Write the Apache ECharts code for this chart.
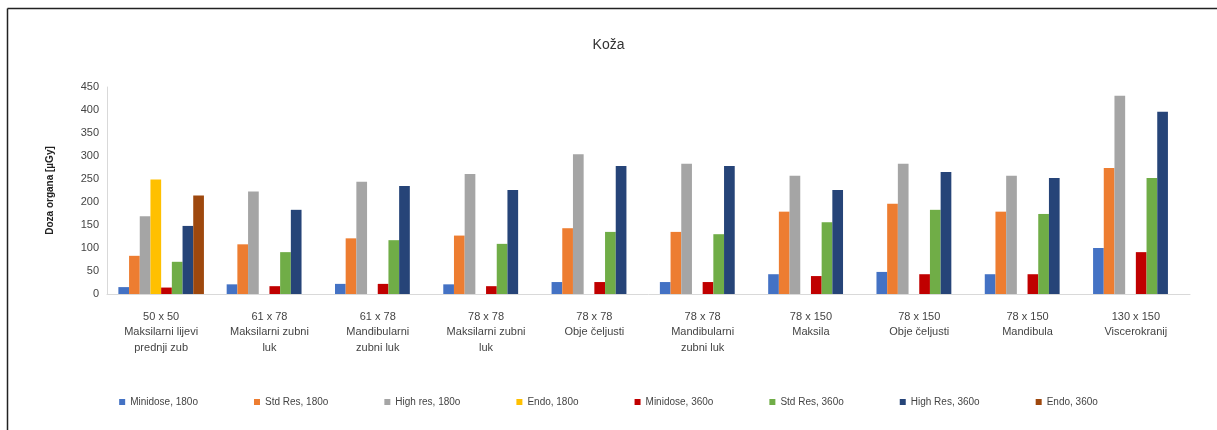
<!DOCTYPE html>
<html><head><meta charset="utf-8">
<script src="https://cdn.jsdelivr.net/npm/echarts@6/dist/echarts.min.js"></script>
<style>html,body{margin:0;padding:0;background:#fff}#c{width:1217px;height:430px}</style>
</head><body><div id="c"></div>
<script>
const categories = [
  "50 x 50\nMaksilarni lijevi\nprednji zub",
  "61 x 78\nMaksilarni zubni\nluk",
  "61 x 78\nMandibularni\nzubni luk",
  "78 x 78\nMaksilarni zubni\nluk",
  "78 x 78\nObje čeljusti",
  "78 x 78\nMandibularni\nzubni luk",
  "78 x 150\nMaksila",
  "78 x 150\nObje čeljusti",
  "78 x 150\nMandibula",
  "130 x 150\nViscerokranij"
];
const seriesNames = ["Minidose, 180o","Std Res, 180o","High res, 180o","Endo, 180o","Minidose, 360o","Std Res, 360o","High Res, 360o","Endo, 360o"];
const minidose180 = [15, 21, 22, 21, 26, 26, 43, 48, 43, 100];
const stdRes180   = [83, 108, 121, 127, 143, 135, 179, 196, 179, 274];
const highRes180  = [169, 223, 244, 261, 304, 283, 257, 283, 257, 431];
const endo180     = [249, null, null, null, null, null, null, null, null, null];
const minidose360 = [14, 17, 22, 17, 26, 26, 39, 43, 43, 91];
const stdRes360   = [70, 91, 117, 109, 135, 130, 156, 183, 174, 252];
const highRes360  = [148, 183, 235, 226, 278, 278, 226, 265, 252, 396];
const endo360     = [214, null, null, null, null, null, null, null, null, null];
const yTicks = [0, 50, 100, 150, 200, 250, 300, 350, 400, 450];

const allData = [minidose180, stdRes180, highRes180, endo180, minidose360, stdRes360, highRes360, endo360];
const colors = ["#4472C4","#ED7D31","#A5A5A5","#FFC000","#C00000","#70AD47","#264478","#9E480E"];
const font = "Liberation Sans";

const chart = echarts.init(document.getElementById('c'), null, {renderer:'canvas'});
chart.setOption({
  animation: false,
  color: colors,
  title: {text: "Koža", left: 'center', top: 33, textStyle: {fontFamily: font, fontSize: 14, fontWeight: 'normal', color: '#333'}},
  graphic: [
    {type:'line', shape:{x1:7.5,y1:8.5,x2:1217,y2:8.5}, style:{stroke:'#222', lineWidth:1.5}},
    {type:'line', shape:{x1:7.5,y1:8.5,x2:7.5,y2:430}, style:{stroke:'#222', lineWidth:1.5}}
  ],
  legend: {
    data: seriesNames, bottom: 18, left: 'center', itemWidth: 6, itemHeight: 6, itemGap: 56,
    icon: 'rect',
    textStyle: {fontFamily: font, fontSize: 10, color: '#444'}
  },
  grid: {left: 107, right: 27, top: 87, bottom: 136, containLabel: false},
  xAxis: {
    type: 'category', data: categories,
    axisLine: {lineStyle: {color: '#d9d9d9'}},
    axisTick: {show: false},
    axisLabel: {interval: 0, fontFamily: font, fontSize: 11, color: '#444', lineHeight: 15.5, margin: 15}
  },
  yAxis: {
    type: 'value', min: 0, max: 450, interval: 50,
    name: "Doza organa [µGy]", nameLocation: 'middle', nameGap: 52, nameRotate: 90,
    nameTextStyle: {fontFamily: font, fontSize: 10, color: '#222', fontWeight: 'bold'},
    axisLine: {show: true, lineStyle: {color: '#d9d9d9'}},
    axisTick: {show: false},
    splitLine: {show: false},
    axisLabel: {fontFamily: font, fontSize: 11, color: '#444', margin: 8,
      formatter: v => yTicks.includes(v) ? String(v) : ''}
  },
  series: seriesNames.map((n, i) => ({
    name: n, type: 'bar', data: allData[i], barGap: '0%', barCategoryGap: '21%'
  }))
});
</script></body></html>
